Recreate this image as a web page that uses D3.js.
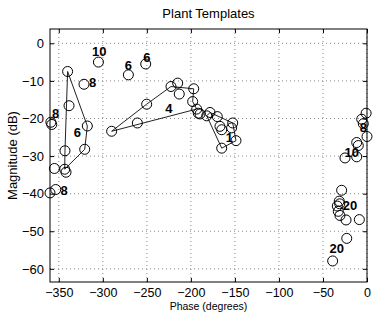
<!DOCTYPE html>
<html><head><meta charset="utf-8">
<script src="https://cdn.jsdelivr.net/npm/d3@7/dist/d3.min.js"></script>
<style>body{margin:0;background:#fff;}svg{display:block;}</style>
</head><body><svg id="c" width="374" height="312"></svg>
<script>
const xTicks = [-350,-300,-250,-200,-150,-100,-50,0];
const yTicks = [0,-10,-20,-30,-40,-50,-60];
// template points [phase(deg), magnitude(dB)]
const circlePts = [
  [-305,-5.0],[-271,-8.4],[-251.3,-5.5],[-321.4,-10.9],
  [-340,-7.5],[-338.4,-16.6],[-317.6,-22.0],[-320.6,-28.2],[-343,-28.6],[-343.3,-33.5],[-341.8,-34.3],
  [-359,-21.0],[-358,-21.6],[-355,-33.3],[-360,-39.8],[-353.5,-38.9],
  [-290,-23.4],[-260.8,-21.2],[-250.2,-16.2],[-222.6,-11.5],[-215,-10.6],[-213.2,-13.5],[-196.8,-12.1],
  [-198,-15.5],[-193.4,-17.5],[-191.6,-18.6],[-189.6,-18.8],[-182,-19.3],[-178.3,-18.4],[-170,-19.5],
  [-167,-22.1],[-165,-23.0],[-152.5,-21.2],[-153.7,-22.5],[-148.8,-25.9],[-165,-27.9],
  [-1,-18.6],[-6,-20.2],[-4.2,-21.4],[0,-24.8],[-11.7,-26.4],[-9.9,-27.2],[-25,-30.5],[-11.7,-30.2],
  [-28.8,-39.1],[-31.5,-42.0],[-33.7,-43.3],[-32.6,-44.7],[-30.7,-45.8],[-23.8,-47.0],[-8.7,-46.9],
  [-31,-42.7],[-23,-51.9],[-39,-57.9]
];
const poly6 = [[-340,-7.5],[-317.6,-22.0],[-320.6,-28.2],[-343.3,-33.5],[-343,-28.6],[-340,-7.5]];
const poly4 = [[-290,-23.4],[-250.2,-16.2],[-222.6,-11.5],[-196.8,-12.1],[-198,-15.5],[-193.4,-17.5],[-290,-23.4]];
const poly1 = [[-182,-19.3],[-165,-27.9],[-148.8,-25.9],[-152.5,-21.2],[-178.3,-18.4],[-182,-19.3]];
const labelText = ["10","6","6","8","8","6","8","4","1","8","10","20","20"];
const labelPos = [[-304,-2.3],[-271,-5.9],[-250,-3.9],[-311.5,-10.3],[-353.5,-18.7],[-329,-23.8],[-344,-39.1],
  [-225,-17.3],[-156.4,-25.1],[-4.2,-22.4],[-17.4,-29.1],[-19.3,-43.2],[-34.4,-54.5]];

const svg = d3.select("#c");
const L=50,R=367,T=29,B=282;
const x = d3.scaleLinear().domain([-360,0]).range([L,R]);
const y = d3.scaleLinear().domain([-63.5,3.8]).range([B,T]);
const font = "'Liberation Sans', Arial, Helvetica, sans-serif";

// grid
const g = svg.append("g");
g.selectAll("line.gx").data(xTicks).join("line")
  .attr("x1",d=>x(d)).attr("x2",d=>x(d)).attr("y1",T).attr("y2",B)
  .attr("stroke","#888").attr("stroke-width",1).attr("stroke-dasharray","1,3");
g.selectAll("line.gy").data(yTicks).join("line")
  .attr("y1",d=>y(d)).attr("y2",d=>y(d)).attr("x1",L).attr("x2",R)
  .attr("stroke","#888").attr("stroke-width",1).attr("stroke-dasharray","1,3");

// axes
const ax = d3.axisBottom(x).tickValues(xTicks).tickSizeInner(-4).tickSizeOuter(0).tickPadding(6)
  .tickFormat(d=>String(d).replace("-","\u2212"));
const ay = d3.axisLeft(y).tickValues(yTicks).tickSizeInner(-4).tickSizeOuter(0).tickPadding(6)
  .tickFormat(d=>String(d).replace("-","\u2212"));
const gx = svg.append("g").attr("transform",`translate(0,${B})`).call(ax);
const gy = svg.append("g").attr("transform",`translate(${L},0)`).call(ay);
svg.append("g").attr("transform",`translate(0,${T})`).call(d3.axisTop(x).tickValues(xTicks).tickSizeInner(-4).tickSizeOuter(0).tickFormat(""));
svg.append("g").attr("transform",`translate(${R},0)`).call(d3.axisRight(y).tickValues(yTicks).tickSizeInner(-4).tickSizeOuter(0).tickFormat(""));
svg.selectAll(".domain").remove();
svg.selectAll(".tick line").attr("stroke","#000");
gx.selectAll("text").attr("font-family",font).attr("font-size",12.5).attr("fill","#000");
gy.selectAll("text").attr("font-family",font).attr("font-size",13).attr("fill","#000");
svg.append("rect").attr("x",L).attr("y",T).attr("width",R-L).attr("height",B-T)
  .attr("fill","none").attr("stroke","#000").attr("stroke-width",1);

// polygons
const line = d3.line().x(d=>x(d[0])).y(d=>y(d[1]));
[poly6,poly4,poly1].forEach(p=>svg.append("path").attr("d",line(p)).attr("fill","none").attr("stroke","#222").attr("stroke-width",1));

// circles
svg.selectAll("circle.pt").data(circlePts).join("circle")
  .attr("cx",d=>x(d[0])).attr("cy",d=>y(d[1])).attr("r",5)
  .attr("fill","none").attr("stroke","#000").attr("stroke-width",1);

// labels
svg.selectAll("text.lab").data(labelPos).join("text")
  .attr("x",d=>x(d[0])).attr("y",d=>y(d[1])).attr("dy","0.35em")
  .attr("text-anchor","middle").attr("font-family",font).attr("font-weight","bold").attr("font-size",13)
  .text((d,i)=>labelText[i]);

// titles
svg.append("text").attr("x",(L+R)/2).attr("y",18).attr("text-anchor","middle")
  .attr("font-family",font).attr("font-size",13).text("Plant Templates");
svg.append("text").attr("x",(L+R)/2).attr("y",310).attr("text-anchor","middle")
  .attr("font-family",font).attr("font-size",10.5).text("Phase (degrees)");
svg.append("text").attr("transform",`translate(17,${(T+B)/2}) rotate(-90)`).attr("text-anchor","middle")
  .attr("font-family",font).attr("font-size",13).text("Magnitude (dB)");
</script></body></html>
